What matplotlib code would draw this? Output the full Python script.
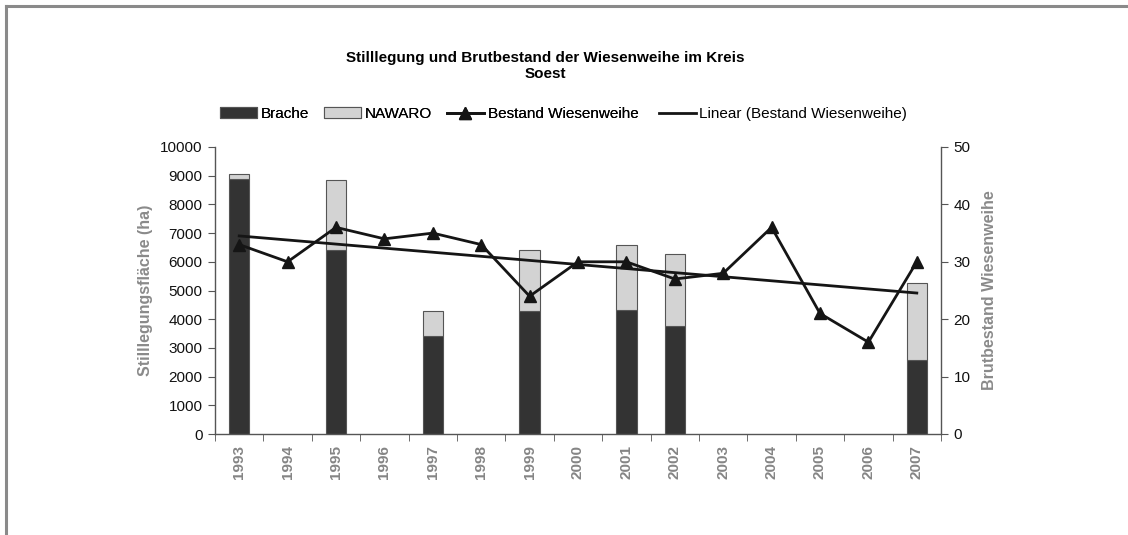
import matplotlib
matplotlib.use("Agg")
import matplotlib.pyplot as plt
import numpy as np
from matplotlib.patches import Patch
from matplotlib.lines import Line2D

years = ["1993", "1994", "1995", "1996", "1997", "1998", "1999", "2000",
         "2001", "2002", "2003", "2004", "2005", "2006", "2007"]
brache = [8880, 0, 6400, 0, 3430, 0, 4270, 0, 4320, 3780, 0, 0, 0, 0, 2570]
nawaro = [170, 0, 2450, 0, 840, 0, 2130, 0, 2250, 2480, 0, 0, 0, 0, 2700]
bestand = [33, 30, 36, 34, 35, 33, 24, 30, 30, 27, 28, 36, 21, 16, 30]

plt.rcParams['font.family'] = ['Liberation Sans', 'DejaVu Sans']

W, H = 1128, 535
fig = plt.figure(figsize=(W / 100, H / 100), dpi=100)
fig.patch.set_facecolor("white")

# frame lines (top and left) like the source screenshot
fig.add_artist(Line2D([6 / W, 1], [1 - 6 / H, 1 - 6 / H], color="#8a8a8a", lw=2.2))
fig.add_artist(Line2D([6 / W, 6 / W], [0, 1 - 6 / H], color="#8a8a8a", lw=2.2))

ax = fig.add_axes([215 / W, 1 - 434 / H, (941 - 215) / W, (434 - 147) / H])
x = np.arange(len(years))
br = np.array(brache, dtype=float)
nw = np.array(nawaro, dtype=float)
has = (br + nw) > 0
dark = "#333333"
light = "#d3d3d3"
edge = "#555555"
bw = 0.42
ax.bar(x[has], br[has], width=bw, color=dark, edgecolor=edge, linewidth=0.8, zorder=2)
ax.bar(x[has], nw[has], width=bw, bottom=br[has], color=light, edgecolor=edge,
       linewidth=0.8, zorder=2)
ax.set_xlim(-0.5, len(years) - 0.5)
ax.set_ylim(0, 10000)
ax.set_yticks(np.arange(0, 10001, 1000))
ax.set_xticks(x)
ax.set_xticklabels(years, rotation=90, color="#858585", fontsize=11, fontweight="bold")
ax.set_xticks(np.arange(-0.5, len(years), 1), minor=True)
ax.tick_params(axis="x", which="major", length=0, pad=8)
ax.tick_params(axis="x", which="minor", length=5, direction="out", color="#555555")
ax.tick_params(axis="y", length=5, direction="out", color="#555555", labelsize=11,
               labelcolor="#111111", pad=4)
for s in ["top", "right"]:
    ax.spines[s].set_visible(False)
for s in ["left", "bottom"]:
    ax.spines[s].set_color("#555555")
    ax.spines[s].set_linewidth(1.0)
ax.set_ylabel("Stilllegungsfläche (ha)", color="#8a8a8a", fontsize=11.5,
              fontweight="bold", labelpad=5)

ax2 = ax.twinx()
ax2.set_ylim(0, 50)
ax2.set_yticks(np.arange(0, 51, 10))
ax2.tick_params(axis="y", length=5, direction="out", color="#555555", labelsize=11,
                labelcolor="#111111", pad=4)
for s in ["top", "left", "bottom"]:
    ax2.spines[s].set_visible(False)
ax2.spines["right"].set_color("#555555")
ax2.spines["right"].set_linewidth(1.0)
ax2.plot(x, bestand, color="#151515", lw=2.0, marker="^", markersize=8,
         markerfacecolor="#151515", markeredgecolor="#151515", zorder=3)
coef = np.polyfit(x, bestand, 1)
trend = np.polyval(coef, x)
ax2.plot(x, trend, color="#151515", lw=2.0, zorder=3)
ax2.set_ylabel("Brutbestand Wiesenweihe", color="#8a8a8a", fontsize=11.5,
               fontweight="bold", labelpad=8)

fig.text(545 / W, 1 - 66 / H, "Stilllegung und Brutbestand der Wiesenweihe im Kreis\nSoest",
         ha="center", va="center", fontsize=11, fontweight="bold", linespacing=1.15)

handles = [Patch(facecolor=dark, edgecolor=edge, linewidth=0.8),
           Patch(facecolor=light, edgecolor=edge, linewidth=0.8),
           Line2D([], [], color="#151515", lw=2.0, marker="^", markersize=8)]
leg1 = fig.legend(handles, ["Brache", "NAWARO", "Bestand Wiesenweihe"], ncol=3,
                  loc="center left", bbox_to_anchor=(220 / W, 1 - 114 / H),
                  frameon=False, fontsize=11, handlelength=2.4, handletextpad=0.25,
                  columnspacing=1.0, borderpad=0, borderaxespad=0)
leg2 = fig.legend([Line2D([], [], color="#151515", lw=2.0)],
                  ["Linear (Bestand Wiesenweihe)"], loc="center left",
                  bbox_to_anchor=(659 / W, 1 - 114 / H), frameon=False, fontsize=11,
                  handlelength=2.4, handletextpad=0.25, borderpad=0, borderaxespad=0)
fig.add_artist(leg1)

fig.savefig("out.png", dpi=100, facecolor="white")
